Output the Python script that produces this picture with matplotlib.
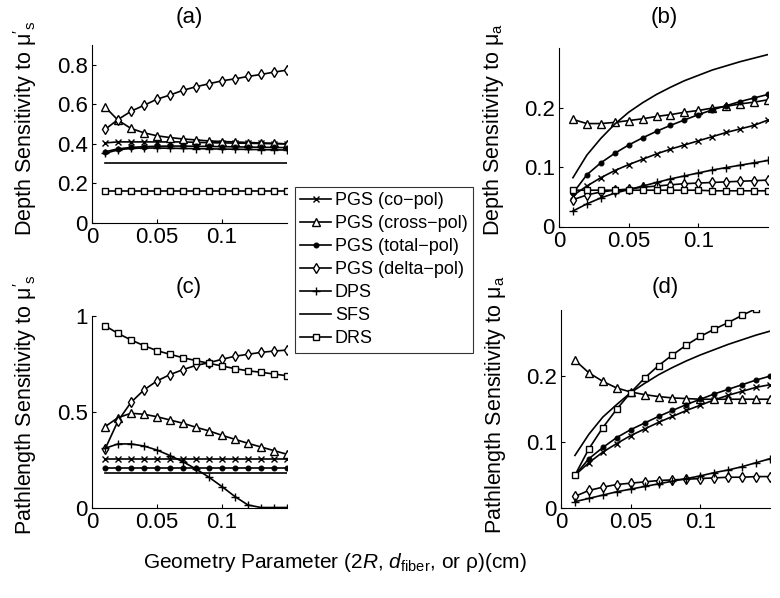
import numpy as np
import matplotlib
matplotlib.use("Agg")
import matplotlib.pyplot as plt
from matplotlib.lines import Line2D

plt.rcParams['font.family'] = ['Liberation Sans', 'DejaVu Sans']
plt.rcParams['mathtext.fontset'] = 'custom'
plt.rcParams['mathtext.rm'] = 'Liberation Sans'
plt.rcParams['mathtext.it'] = 'Liberation Sans:italic'

# geometry parameter (cm)
x = [0.01, 0.02, 0.03, 0.04, 0.05, 0.06, 0.07, 0.08, 0.09, 0.10, 0.11, 0.12, 0.13, 0.14, 0.15]

labels = ["PGS (co\u2212pol)", "PGS (cross\u2212pol)", "PGS (total\u2212pol)",
          "PGS (delta\u2212pol)", "DPS", "SFS", "DRS"]

# (a) depth sensitivity to mu_s'
a_co = [0.405, 0.41, 0.41, 0.41, 0.41, 0.41, 0.41, 0.408, 0.406, 0.405, 0.404, 0.403, 0.402, 0.401, 0.40]
a_cross = [0.587, 0.52, 0.478, 0.456, 0.441, 0.432, 0.425, 0.42, 0.415, 0.412, 0.41, 0.407, 0.405, 0.403, 0.40]
a_total = [0.36, 0.375, 0.382, 0.386, 0.388, 0.389, 0.389, 0.388, 0.387, 0.386, 0.385, 0.384, 0.383, 0.382, 0.381]
a_delta = [0.473, 0.523, 0.565, 0.595, 0.626, 0.647, 0.671, 0.689, 0.704, 0.719, 0.729, 0.741, 0.751, 0.763, 0.773]
a_dps = [0.352, 0.37, 0.377, 0.379, 0.379, 0.378, 0.377, 0.376, 0.375, 0.374, 0.373, 0.372, 0.371, 0.37, 0.369]
a_sfs = [0.302] * 15
a_drs = [0.163] * 15

# (b) depth sensitivity to mu_a
b_co = [0.052, 0.068, 0.082, 0.094, 0.104, 0.113, 0.122, 0.13, 0.137, 0.144, 0.151, 0.158, 0.164, 0.17, 0.179]
b_cross = [0.18, 0.173, 0.173, 0.175, 0.178, 0.181, 0.185, 0.188, 0.192, 0.195, 0.199, 0.202, 0.206, 0.209, 0.213]
b_total = [0.056, 0.087, 0.107, 0.123, 0.137, 0.149, 0.16, 0.17, 0.179, 0.188, 0.196, 0.203, 0.21, 0.216, 0.222]
b_delta = [0.045, 0.053, 0.058, 0.061, 0.063, 0.066, 0.068, 0.07, 0.072, 0.073, 0.074, 0.075, 0.076, 0.077, 0.078]
b_dps = [0.026, 0.038, 0.048, 0.056, 0.062, 0.068, 0.074, 0.08, 0.085, 0.09, 0.095, 0.099, 0.103, 0.107, 0.111]
b_sfs = [0.082, 0.12, 0.148, 0.172, 0.192, 0.208, 0.222, 0.234, 0.245, 0.254, 0.263, 0.27, 0.277, 0.283, 0.289]
b_drs = [0.061, 0.061, 0.061, 0.061, 0.061, 0.061, 0.061, 0.061, 0.061, 0.061, 0.06, 0.06, 0.06, 0.06, 0.06]

# (c) pathlength sensitivity to mu_s'
c_co = [0.252] * 15
c_cross = [0.422, 0.469, 0.492, 0.487, 0.474, 0.457, 0.44, 0.419, 0.40, 0.377, 0.356, 0.335, 0.316, 0.297, 0.278]
c_total = [0.205] * 15
c_delta = [0.304, 0.452, 0.549, 0.614, 0.661, 0.694, 0.72, 0.742, 0.756, 0.774, 0.79, 0.80, 0.81, 0.817, 0.822]
c_dps = [0.309, 0.332, 0.332, 0.321, 0.30, 0.271, 0.239, 0.201, 0.158, 0.109, 0.057, 0.013, 0.0, 0.0, 0.0]
c_sfs = [0.182] * 15
c_drs = [0.949, 0.909, 0.875, 0.845, 0.819, 0.80, 0.782, 0.767, 0.753, 0.739, 0.725, 0.714, 0.706, 0.697, 0.688]

# (d) pathlength sensitivity to mu_a
d_co = [0.05, 0.069, 0.085, 0.098, 0.11, 0.12, 0.13, 0.139, 0.148, 0.156, 0.164, 0.171, 0.177, 0.183, 0.187]
d_cross = [0.224, 0.205, 0.192, 0.182, 0.176, 0.172, 0.169, 0.167, 0.166, 0.165, 0.165, 0.165, 0.165, 0.165, 0.165]
d_total = [0.05, 0.075, 0.092, 0.107, 0.119, 0.129, 0.139, 0.148, 0.157, 0.165, 0.173, 0.18, 0.187, 0.194, 0.2]
d_delta = [0.018, 0.027, 0.032, 0.036, 0.038, 0.04, 0.042, 0.043, 0.044, 0.045, 0.046, 0.047, 0.047, 0.048, 0.048]
d_dps = [0.01, 0.015, 0.02, 0.025, 0.029, 0.033, 0.037, 0.041, 0.045, 0.049, 0.054, 0.058, 0.063, 0.069, 0.075]
d_sfs = [0.08, 0.112, 0.138, 0.157, 0.175, 0.189, 0.202, 0.213, 0.223, 0.232, 0.24, 0.248, 0.255, 0.262, 0.268]
d_drs = [0.05, 0.09, 0.122, 0.15, 0.175, 0.197, 0.216, 0.232, 0.247, 0.26, 0.271, 0.281, 0.292, 0.302, 0.312]

styles = [
    dict(marker='x', ms=4.5, mew=1.0),
    dict(marker='^', ms=5.5, mfc='white', mew=1.0),
    dict(marker='o', ms=3.5, mfc='black', mew=0.8),
    dict(marker='d', ms=5, mfc='white', mew=1.0),
    dict(marker='+', ms=6, mew=1.0),
    dict(marker=None),
    dict(marker='s', ms=4.5, mfc='white', mew=1.0),
]

fig = plt.figure(figsize=(7.8, 5.98), dpi=100)

W, H = 780.0, 598.0
def add_axes(l, r, t, b):
    return fig.add_axes([l / W, 1 - b / H, (r - l) / W, (b - t) / H])

ax_a = add_axes(92, 287, 45, 223)
ax_b = add_axes(559, 768, 48, 226.5)
ax_c = add_axes(92, 287, 316, 507.5)
ax_d = add_axes(561, 770, 310, 508.3)

panels = [
    (ax_a, [a_co, a_cross, a_total, a_delta, a_dps, a_sfs, a_drs], 0.9, [0, 0.2, 0.4, 0.6, 0.8], ['0', '0.2', '0.4', '0.6', '0.8']),
    (ax_b, [b_co, b_cross, b_total, b_delta, b_dps, b_sfs, b_drs], 0.3, [0, 0.1, 0.2], ['0', '0.1', '0.2']),
    (ax_c, [c_co, c_cross, c_total, c_delta, c_dps, c_sfs, c_drs], 1.0, [0, 0.5, 1], ['0', '0.5', '1']),
    (ax_d, [d_co, d_cross, d_total, d_delta, d_dps, d_sfs, d_drs], 0.3, [0, 0.1, 0.2], ['0', '0.1', '0.2']),
]

for ax, series, ytop, yt, ytl in panels:
    for y, st in zip(series, styles):
        ax.plot(x, y, color='black', lw=1.2, mec='black', **st)
    ax.set_xlim(0, 0.15)
    ax.set_ylim(0, ytop)
    ax.set_xticks([0, 0.05, 0.1])
    ax.set_xticklabels(['0', '0.05', '0.1'])
    ax.set_yticks(yt)
    ax.set_yticklabels(ytl)
    ax.spines['top'].set_visible(False)
    ax.spines['right'].set_visible(False)
    ax.tick_params(direction='in', length=3, labelsize=16, pad=3)

fig.text(189 / W, 1 - 18 / H, '(a)', fontsize=16, ha='center', va='center')
fig.text(664 / W, 1 - 18 / H, '(b)', fontsize=16, ha='center', va='center')
fig.text(189 / W, 1 - 287 / H, '(c)', fontsize=16, ha='center', va='center')
fig.text(665 / W, 1 - 287 / H, '(d)', fontsize=16, ha='center', va='center')

mus = "$\\mathrm{\\mu'_s}$"
mua = "$\\mathrm{\\mu_a}$"
fig.text(25 / W, 1 - 128 / H, "Depth Sensitivity to " + mus, fontsize=15.5, rotation=90, ha='center', va='center')
fig.text(494 / W, 1 - 130 / H, "Depth Sensitivity to " + mua, fontsize=15.5, rotation=90, ha='center', va='center')
fig.text(25 / W, 1 - 405 / H, "Pathlength Sensitivity to " + mus, fontsize=15.5, rotation=90, ha='center', va='center')
fig.text(495 / W, 1 - 405 / H, "Pathlength Sensitivity to " + mua, fontsize=15.5, rotation=90, ha='center', va='center')

fig.text(335 / W, 1 - 563 / H, "Geometry Parameter (2$R$, $d_{\\mathrm{fiber}}$, or $\\mathrm{\\rho}$)(cm)",
         fontsize=15, ha='center', va='center')

handles = [Line2D([], [], color='black', lw=1.2, mec='black', **st) for st in styles]
leg = fig.legend(handles, labels, loc='upper left', bbox_to_anchor=(295 / W, 1 - 187 / H),
                 fontsize=13, frameon=True, fancybox=False, edgecolor='black',
                 handlelength=1.7, handletextpad=0.2, labelspacing=0.33,
                 borderpad=0.3, borderaxespad=0)
leg.get_frame().set_linewidth(0.8)

fig.savefig('out.png', dpi=100)
